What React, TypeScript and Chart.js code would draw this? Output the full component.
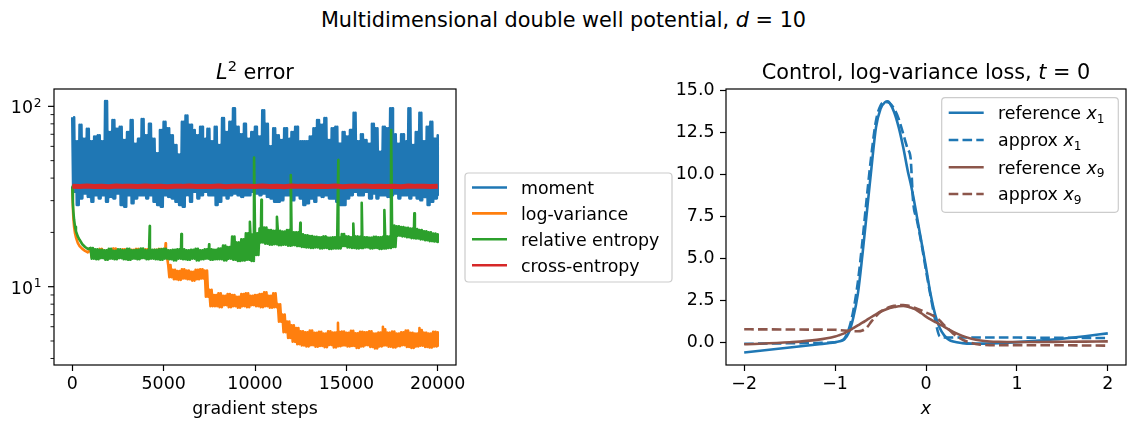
import React, { useEffect, useRef } from "react";
import { Chart, registerables } from "chart.js";

Chart.register(...registerables);

const FAMILY = "'DejaVu Sans', 'Liberation Sans', sans-serif";
const FONT_SIZE = 17.4;
const TITLE_SIZE = 20.8;
const LINE_W = 2.6;
const DASH = [9.6, 4.2];

const BLUE = "#1f77b4";
const ORANGE = "#ff7f0e";
const GREEN = "#2ca02c";
const RED = "#d62728";
const BROWN = "#8c564b";

Chart.defaults.font.family = FAMILY;

// ---------------- L² error vs. gradient steps ----------------
const stepTicks = [0, 5000, 10000, 15000, 20000];
const errorDecades = [10, 100];
const errorMinorTicks = [4, 5, 6, 7, 8, 9, 20, 30, 40, 50, 60, 70, 80, 90];

// moment loss: upper / lower edge of the noisy trace, one pair every 200 steps
const momentFirstStep = 0;
const momentStride = 200;
const momentHigh = [
  87, 64, 79, 66, 75, 64, 68, 69, 64, 107, 72, 84, 75, 77, 65, 72, 84, 62, 66, 85, 69, 80, 66, 55, 74,
  82, 75.5, 69, 61, 54, 82, 89, 79, 74, 69, 77, 66, 75, 64, 77, 61, 86, 72, 82, 97.5, 77, 70, 80, 66, 72, 77,
  68, 95, 80, 60, 75.5, 69, 65, 75.5, 66, 72, 77, 64, 64, 64, 68, 75.5, 84, 79, 86, 65, 75.5, 77, 62, 72, 68,
  74, 92, 64, 70, 65, 62, 80, 75.5, 56, 77, 75.5, 97.5, 70, 62, 70, 64, 97.5, 61, 72, 92, 64, 77, 82, 66, 69,
];
const momentLow = [
  33.6, 28.4, 30.9, 32.9, 31.5, 29.6, 32.2, 30.9, 32.2, 29.6, 31.5, 30.9, 32.9, 28.4, 27.8, 32.2, 29.0, 30.9, 32.2, 32.2, 30.9, 32.2, 29.6, 28.4, 27.8,
  32.2, 31.5, 30.9, 29.6, 28.4, 27.8, 32.2, 29.6, 33.6, 30.9, 32.2, 33.6, 32.2, 32.2, 28.4, 29.6, 32.2, 30.9, 32.2, 32.9, 32.2, 31.5, 32.2, 32.2, 33.6, 32.9,
  32.2, 32.9, 31.5, 30.9, 29.6, 29.6, 30.2, 32.2, 32.2, 30.2, 32.2, 30.9, 28.4, 29.0, 30.9, 29.6, 32.2, 31.5, 32.2, 30.9, 30.9, 29.6, 28.4, 28.4, 30.9,
  32.2, 33.6, 32.2, 32.2, 33.6, 30.9, 32.9, 30.9, 32.2, 32.2, 31.5, 32.2, 32.9, 30.9, 32.2, 32.2, 30.9, 32.2, 30.9, 30.2, 31.5, 28.4, 29.6, 30.9, 32.2,
];

// early transient of the two decreasing losses
const decaySteps = [0, 30, 60, 100, 150, 200, 300, 400, 550, 700, 850];
const logVarianceDecay = [35.5, 28, 24, 21.5, 19.8, 18.8, 17.5, 16.8, 16.2, 15.8, 15.5];
const relativeEntropyDecay = [36, 29.5, 26, 23.5, 21.5, 20.3, 19.0, 18.2, 17.2, 16.6, 16.2];

// noisy plateaus from step 1000 on, one upper / lower pair every 250 steps
const plateauFirstStep = 1000;
const plateauStride = 250;
const logVarianceHigh = [
  16.1, 15.9, 16.2, 15.8, 16.0, 16.3, 15.9, 16.1, 15.8, 16.0, 16.2, 15.9, 16.1, 15.8, 16.0, 16.2,
  16.1, 13.2,
  12.4, 12.2, 12.5, 12.3, 12.1, 12.4, 12.5,
  12.3, 9.6,
  9.0, 9.2, 8.9, 9.1, 9.0, 8.8, 9.1, 9.2, 8.9, 9.0, 9.1, 9.3, 8.9,
  9.2, 8.0, 7.0, 6.4, 6.1, 5.9,
  5.65, 5.58, 5.72, 5.55, 5.62, 5.5, 5.66, 5.57, 5.6, 5.64,
  5.55, 5.7, 5.52, 5.63, 5.58, 5.66, 5.5, 5.57, 5.8, 5.56,
  5.64, 5.5, 5.58, 5.72, 5.55, 5.5, 5.75, 5.56, 5.5, 5.62,
  5.58,
];
const logVarianceLow = [
  14.6, 14.4, 14.7, 14.5, 14.6, 14.4, 14.6, 14.5, 14.3, 14.6, 14.5, 14.7, 14.4, 14.5, 14.6, 14.4,
  14.6, 11.3,
  11.0, 10.9, 11.1, 11.0, 10.8, 11.0, 11.1,
  8.8, 7.8,
  7.8, 7.7, 7.9, 7.7, 7.8, 7.65, 7.8, 7.7, 7.9, 7.8, 7.7, 7.8, 7.65,
  7.7, 6.4, 5.6, 5.2, 4.95, 4.8,
  4.72, 4.66, 4.74, 4.65, 4.7, 4.62, 4.75, 4.6, 4.68, 4.73,
  4.66, 4.7, 4.58, 4.67, 4.74, 4.64, 4.55, 4.66, 4.72, 4.65,
  4.6, 4.68, 4.74, 4.63, 4.58, 4.67, 4.71, 4.64, 4.6, 4.66,
  4.7,
];
const logVarianceSpikeSteps = [5110, 14540, 17000, 19000];
const logVarianceSpikeValues = [17.4, 6.3, 6.0, 5.9];

const relativeEntropyHigh = [
  16.4, 16.1, 16.0, 15.9, 16.2, 15.8, 16.1, 15.9, 16.2, 15.9, 16.0, 16.3, 15.9, 16.0, 16.0, 16.1,
  16.2, 15.9, 16.0, 16.1, 16.1, 15.9, 16.0, 16.2, 15.9, 16.1, 16.1, 16.0, 16.3, 16.9, 16.6, 19.0,
  17.6, 18.3, 19.8, 19.5, 19.8, 21.0, 21.3, 20.6, 20.4, 20.4, 20.2, 20.6, 20.0, 20.0, 19.5, 19.3,
  19.1, 18.9, 18.8, 19.0, 18.7, 18.8, 18.8, 19.6, 19.0, 18.8, 19.0, 18.9, 18.8, 18.7, 18.9, 18.8,
  18.9, 19.0, 21.8, 21.6, 21.4, 21.2, 21.0, 20.9, 20.6, 20.3, 20.0, 19.7, 19.5,
];
const relativeEntropyLow = [
  14.3, 14.2, 14.4, 14.1, 14.3, 14.2, 14.4, 14.2, 14.1, 14.3, 14.2, 14.4, 14.2,
  14.3, 14.2, 14.1, 14.3, 14.2, 14.0, 14.3, 14.2, 14.1, 14.3, 14.0, 14.2, 14.3, 14.1, 14.2,
  14.2, 14.0, 14.3, 14.1, 13.9, 14.0, 14.1, 13.9,
  15.0,
  17.6, 17.3, 17.1, 17.2, 17.0, 17.1, 16.9, 17.0, 16.8,
  16.6, 16.5, 16.4, 16.5, 16.3, 16.4, 16.2, 16.3,
  16.3,
  16.8, 16.5, 16.4, 16.3, 16.4, 16.5, 16.3, 16.4, 16.2, 16.3, 16.4,
  16.6,
  19.2, 19.0, 18.8, 18.6, 18.5, 18.3, 18.1, 17.9, 17.8, 17.7,
];
const relativeEntropySpikeSteps = [4240, 5970, 7490, 9720, 9950, 10350, 11200, 11960, 12480, 14560, 15380, 15840, 17080, 17450, 18720];
const relativeEntropySpikeValues = [21.7, 19.6, 17.2, 22.9, 52, 30.3, 24.4, 41.6, 22.6, 50.4, 22.4, 29.2, 26.6, 74, 25.5];

// cross-entropy loss, one value every 400 steps
const crossEntropyStride = 400;
const crossEntropyValues = [
  36.1, 35.9, 36.2, 35.9, 36.1, 35.8, 36.2, 36.0, 36.1, 35.9,
  36.2, 35.9, 36.1, 35.8, 36.1, 36.0, 36.2, 35.9, 36.1, 35.9,
  36.2, 35.8, 36.1, 36.0, 36.1, 35.9, 36.2, 35.9, 36.1, 35.8,
  36.2, 36.0, 36.1, 35.9, 36.1, 35.9, 36.2, 35.8, 36.1, 36.0,
  36.2, 35.9, 36.1, 35.9, 36.1, 35.8, 36.2, 36.0, 36.1, 35.9,
  36.1,
];

// ---------------- control at t = 0 ----------------
const controlTicks = [0, 2.5, 5, 7.5, 10, 12.5, 15];
const xTicks = [-2, -1, 0, 1, 2];
const xGrid = [
  -2, -1.5, -1.2, -1.0, -0.95, -0.9, -0.85, -0.8, -0.75, -0.7, -0.65, -0.6, -0.55, -0.5, -0.45,
  -0.42, -0.4, -0.35, -0.3, -0.25, -0.2, -0.17, -0.14, -0.1, -0.05, 0, 0.05, 0.1, 0.15, 0.2,
  0.25, 0.3, 0.4, 0.5, 0.6, 0.7, 0.8, 1.0, 1.25, 1.5, 1.75, 2,
];
const referenceX1 = [
  -0.57, -0.27, -0.09, 0.04, 0.1, 0.2, 0.6, 1.5, 2.9, 5.2, 7.8, 10.4, 12.8, 13.9, 14.3,
  14.35, 14.25, 13.7, 12.8, 11.6, 10.2, 9.5, 8.7, 7.5, 6.0, 4.5, 2.9, 1.7, 0.9, 0.45,
  0.2, 0.08, -0.01, -0.04, -0.04, -0.03, -0.01, 0.05, 0.14, 0.25, 0.4, 0.57,
];
const approxX1 = [
  -0.05, -0.02, 0.0, 0.04, 0.1, 0.25, 0.8, 1.9, 3.6, 6.0, 8.7, 11.2, 13.2, 14.1, 14.3,
  14.3, 14.25, 13.9, 13.3, 12.4, 11.5, 11.0, 8.3, 7.3, 5.9, 4.3, 2.8, 1.4, 0.4, 0.33,
  0.32, 0.32, 0.32, 0.32, 0.32, 0.32, 0.32, 0.32, 0.31, 0.31, 0.3, 0.29,
];
const referenceX9 = [
  -0.08, 0.04, 0.18, 0.38, 0.47, 0.57, 0.72, 0.88, 1.04, 1.2, 1.37, 1.54, 1.7, 1.85, 1.97,
  2.03, 2.07, 2.13, 2.18, 2.19, 2.15, 2.1, 2.04, 1.94, 1.76, 1.56, 1.4, 1.25, 1.1, 0.96,
  0.8, 0.66, 0.42, 0.25, 0.14, 0.09, 0.07, 0.06, 0.06, 0.07, 0.08, 0.09,
];
const approxX9 = [
  0.81, 0.8, 0.79, 0.78, 0.76, 0.74, 0.72, 0.7, 0.69, 0.74, 0.92, 1.28, 1.6, 1.86, 2.02,
  2.09, 2.13, 2.2, 2.24, 2.25, 2.22, 2.18, 2.12, 2.04, 1.93, 1.8, 1.7, 1.55, 1.33, 1.05,
  0.8, 0.55, 0.2, 0.0, -0.1, -0.13, -0.13, -0.13, -0.14, -0.14, -0.15, -0.16,
];

// ---------------- helpers ----------------
type Pt = { x: number; y: number };
type Run = { t: string; it?: boolean; k?: number; dy?: number };

// Dense noisy trace: every sample swings twice between its upper and lower edge
// inside its own step window, so the stroke covers the whole band.
function bandPoints(first: number, stride: number, high: number[], low: number[]): Pt[] {
  const pts: Pt[] = [];
  high.forEach((h, i) => {
    const s = first + i * stride;
    if (i === high.length - 1) {
      pts.push({ x: s, y: h }, { x: s, y: low[i] });
      return;
    }
    pts.push({ x: s, y: h });
    pts.push({ x: s + stride / 4, y: low[i] });
    pts.push({ x: s + stride / 2, y: h });
    pts.push({ x: s + (3 * stride) / 4, y: low[i] });
  });
  return pts;
}

// isolated one-step excursions, slotted into the trace at their own step
function withSpikes(pts: Pt[], steps: number[], values: number[]): Pt[] {
  const out = pts.slice();
  steps.forEach((s, i) => {
    let at = out.findIndex((p) => p.x > s);
    if (at < 0) at = out.length;
    out.splice(at, 0, { x: s, y: values[i] });
  });
  return out;
}

const fontOf = (size: number, italic?: boolean) => `${italic ? "italic " : ""}${size}px ${FAMILY}`;

function runsWidth(ctx: CanvasRenderingContext2D, runs: Run[], size: number) {
  let w = 0;
  for (const r of runs) {
    ctx.font = fontOf(size * (r.k ?? 1), r.it);
    w += ctx.measureText(r.t).width;
  }
  return w;
}

function drawRuns(ctx: CanvasRenderingContext2D, runs: Run[], x: number, baseline: number, size: number, align: "left" | "center" | "right") {
  const w = runsWidth(ctx, runs, size);
  let cx = align === "center" ? x - w / 2 : align === "right" ? x - w : x;
  ctx.textAlign = "left";
  ctx.textBaseline = "alphabetic";
  ctx.fillStyle = "#000";
  for (const r of runs) {
    ctx.font = fontOf(size * (r.k ?? 1), r.it);
    ctx.fillText(r.t, cx, baseline + (r.dy ?? 0));
    cx += ctx.measureText(r.t).width;
  }
}

function drawFrame(ctx: CanvasRenderingContext2D, a: { left: number; top: number; right: number; bottom: number }) {
  ctx.strokeStyle = "#000";
  ctx.lineWidth = 1.2;
  ctx.setLineDash([]);
  ctx.strokeRect(a.left, a.top, a.right - a.left, a.bottom - a.top);
}

type LegendRow = { color: string; dashed?: boolean; runs: Run[] };
type LegendBox = { x: number; y: number; w: number; h: number; rowY: number[]; h0: number; h1: number; tx: number };

function drawLegend(ctx: CanvasRenderingContext2D, box: LegendBox, rows: LegendRow[]) {
  ctx.save();
  ctx.beginPath();
  ctx.roundRect(box.x, box.y, box.w, box.h, 3.5);
  ctx.fillStyle = "rgba(255,255,255,0.8)";
  ctx.fill();
  ctx.strokeStyle = "#cccccc";
  ctx.lineWidth = 1.2;
  ctx.stroke();
  rows.forEach((row, i) => {
    const y = box.rowY[i];
    ctx.strokeStyle = row.color;
    ctx.lineWidth = LINE_W;
    ctx.setLineDash(row.dashed ? DASH : []);
    ctx.beginPath();
    ctx.moveTo(box.h0, y);
    ctx.lineTo(box.h1, y);
    ctx.stroke();
    ctx.setLineDash([]);
    drawRuns(ctx, row.runs, box.tx, y + 6.3, FONT_SIZE, "left");
  });
  ctx.restore();
}

const tickFont = { family: FAMILY, size: FONT_SIZE };
const tickGrid = { drawOnChartArea: false, drawTicks: true, tickLength: 6, tickWidth: 1.2, tickColor: "#000", color: "#000" };

// ---------------- L² error panel ----------------
function errorConfig(): any {
  const momentPts = bandPoints(momentFirstStep, momentStride, momentHigh, momentLow);
  const logVarPts = withSpikes(
    decaySteps
      .map((s, i) => ({ x: s, y: logVarianceDecay[i] }))
      .concat(bandPoints(plateauFirstStep, plateauStride, logVarianceHigh, logVarianceLow)),
    logVarianceSpikeSteps,
    logVarianceSpikeValues,
  );
  const relEntPts = withSpikes(
    decaySteps
      .map((s, i) => ({ x: s, y: relativeEntropyDecay[i] }))
      .concat(bandPoints(plateauFirstStep, plateauStride, relativeEntropyHigh, relativeEntropyLow)),
    relativeEntropySpikeSteps,
    relativeEntropySpikeValues,
  );
  const crossPts = crossEntropyValues.map((v, i) => ({ x: i * crossEntropyStride, y: v }));

  const decor = {
    id: "errorDecor",
    afterDraw(chart: any) {
      const { ctx, chartArea: a } = chart;
      const ys = chart.scales.y;
      ctx.save();
      drawFrame(ctx, a);
      ctx.strokeStyle = "#000";
      for (const v of errorDecades) {
        const py = ys.getPixelForValue(v);
        ctx.lineWidth = 1.2;
        ctx.beginPath();
        ctx.moveTo(a.left - 6, py);
        ctx.lineTo(a.left, py);
        ctx.stroke();
        const exp = String(Math.round(Math.log10(v)));
        ctx.font = fontOf(FONT_SIZE * 0.7);
        const supW = ctx.measureText(exp).width;
        const right = a.left - 12.5;
        drawRuns(ctx, [{ t: exp, k: 0.7 }], right - supW, py + 0.4, FONT_SIZE, "left");
        drawRuns(ctx, [{ t: "10" }], right - supW - 0.8, py + 7, FONT_SIZE, "right");
      }
      ctx.lineWidth = 0.9;
      for (const v of errorMinorTicks) {
        const py = ys.getPixelForValue(v);
        ctx.beginPath();
        ctx.moveTo(a.left - 3.5, py);
        ctx.lineTo(a.left, py);
        ctx.stroke();
      }
      const cx = (a.left + a.right) / 2;
      drawRuns(ctx, [{ t: "L", it: true }, { t: "2", k: 0.7, dy: -8 }, { t: " error" }], cx, 79, TITLE_SIZE, "center");
      drawRuns(ctx, [{ t: "gradient steps" }], cx, 413.5, FONT_SIZE, "center");
      const rows: LegendRow[] = chart.data.datasets.map((d: any) => ({ color: d.borderColor, runs: [{ t: d.label }] }));
      drawLegend(ctx, { x: 465, y: 173, w: 207, h: 109, rowY: [187.5, 213.4, 239.3, 265.2], h0: 472, h1: 507, tx: 521 }, rows);
      ctx.restore();
    },
  };

  const line = (label: string, data: Pt[], color: string, order: number, width = LINE_W) => ({
    label, data, borderColor: color, backgroundColor: color, borderWidth: width, order,
    pointRadius: 0, fill: false, tension: 0, borderJoinStyle: "round",
  });

  return {
    type: "line",
    data: {
      datasets: [
        line("moment", momentPts, BLUE, 4),
        line("log-variance", logVarPts, ORANGE, 3),
        line("relative entropy", relEntPts, GREEN, 2),
        line("cross-entropy", crossPts, RED, 1, 5),
      ],
    },
    options: {
      responsive: false,
      animation: false,
      devicePixelRatio: 1,
      events: [],
      layout: { autoPadding: false, padding: { top: 89, right: 224, left: 0, bottom: 0 } },
      plugins: { legend: { display: false }, tooltip: { enabled: false }, title: { display: false } },
      scales: {
        x: {
          type: "linear", min: -1000, max: 21000,
          afterBuildTicks: (s: any) => { s.ticks = stepTicks.map((v) => ({ value: v })); },
          afterFit: (s: any) => { s.height = 59; s.paddingLeft = 0; s.paddingRight = 0; },
          ticks: { callback: (v: any) => String(v), font: tickFont, color: "#000", padding: 3, maxRotation: 0, minRotation: 0, autoSkip: false },
          grid: tickGrid,
          border: { display: false },
        },
        y: {
          type: "logarithmic", min: 3.68, max: 124.8,
          afterFit: (s: any) => { s.width = 54; s.paddingTop = 0; s.paddingBottom = 0; },
          ticks: { display: false },
          grid: { display: false },
          border: { display: false },
        },
      },
    },
    plugins: [decor],
  };
}

// ---------------- control panel ----------------
function controlConfig(): any {
  const pts = (ys: number[]) => xGrid.map((x, i) => ({ x, y: ys[i] }));
  const curve = (label: string, ys: number[], color: string, dashed: boolean, order: number) => ({
    label, data: pts(ys), borderColor: color, backgroundColor: color, borderWidth: LINE_W,
    borderDash: dashed ? DASH : [], order, pointRadius: 0, fill: false, cubicInterpolationMode: "monotone",
  });
  const sub = (base: string, idx: string): Run[] => [{ t: base + " " }, { t: "x", it: true }, { t: idx, k: 0.7, dy: 3.5 }];

  const decor = {
    id: "controlDecor",
    afterDraw(chart: any) {
      const { ctx, chartArea: a } = chart;
      ctx.save();
      drawFrame(ctx, a);
      const cx = (a.left + a.right) / 2;
      drawRuns(ctx, [{ t: "Control, log-variance loss, " }, { t: "t", it: true }, { t: " = 0" }], cx, 79, TITLE_SIZE, "center");
      drawRuns(ctx, [{ t: "x", it: true }], cx, 413.5, FONT_SIZE, "center");
      const rows: LegendRow[] = [
        { color: BLUE, runs: sub("reference", "1") },
        { color: BLUE, dashed: true, runs: sub("approx", "1") },
        { color: BROWN, runs: sub("reference", "9") },
        { color: BROWN, dashed: true, runs: sub("approx", "9") },
      ];
      drawLegend(ctx, { x: 301.7, y: 97.7, w: 176.6, h: 114.6, rowY: [112.7, 140, 167.3, 194], h0: 308.7, h1: 343.7, tx: 358 }, rows);
      ctx.restore();
    },
  };

  return {
    type: "line",
    data: {
      datasets: [
        curve("reference x1", referenceX1, BLUE, false, 4),
        curve("approx x1", approxX1, BLUE, true, 3),
        curve("reference x9", referenceX9, BROWN, false, 2),
        curve("approx x9", approxX9, BROWN, true, 1),
      ],
    },
    options: {
      responsive: false,
      animation: false,
      devicePixelRatio: 1,
      events: [],
      layout: { autoPadding: false, padding: { top: 89, right: 1, left: 0, bottom: 0 } },
      plugins: { legend: { display: false }, tooltip: { enabled: false }, title: { display: false } },
      scales: {
        x: {
          type: "linear", min: -2.2, max: 2.2,
          afterBuildTicks: (s: any) => { s.ticks = xTicks.map((v) => ({ value: v })); },
          afterFit: (s: any) => { s.height = 59; s.paddingLeft = 0; s.paddingRight = 0; },
          ticks: { callback: (v: any) => (v < 0 ? "\u2212" + Math.abs(v) : String(v)), font: tickFont, color: "#000", padding: 3, maxRotation: 0, minRotation: 0, autoSkip: false },
          grid: tickGrid,
          border: { display: false },
        },
        y: {
          type: "linear", min: -1.31, max: 15.08,
          afterBuildTicks: (s: any) => { s.ticks = controlTicks.map((v) => ({ value: v })); },
          afterFit: (s: any) => { s.width = 86; s.paddingTop = 0; s.paddingBottom = 0; },
          ticks: { callback: (v: any) => Number(v).toFixed(1), font: tickFont, color: "#000", padding: 5.5, autoSkip: false },
          grid: tickGrid,
          border: { display: false },
        },
      },
    },
    plugins: [decor],
  };
}

export default function App() {
  const leftRef = useRef<HTMLCanvasElement>(null);
  const rightRef = useRef<HTMLCanvasElement>(null);

  useEffect(() => {
    const left = new Chart(leftRef.current!, errorConfig());
    const right = new Chart(rightRef.current!, controlConfig());
    return () => {
      left.destroy();
      right.destroy();
    };
  }, []);

  return (
    <div style={{ position: "absolute", left: 0, top: 0, width: 1127, height: 424, background: "#fff", overflow: "hidden" }}>
      <div
        style={{
          position: "absolute", left: 0, top: 0, width: 1127, textAlign: "center",
          fontFamily: FAMILY, fontSize: TITLE_SIZE, lineHeight: "41px", color: "#000", whiteSpace: "nowrap",
        }}
      >
        Multidimensional double well potential, <i>d</i> = 10
      </div>
      <canvas ref={leftRef} width={680} height={424} style={{ position: "absolute", left: 0, top: 0 }} />
      <canvas ref={rightRef} width={487} height={424} style={{ position: "absolute", left: 640, top: 0 }} />
    </div>
  );
}
